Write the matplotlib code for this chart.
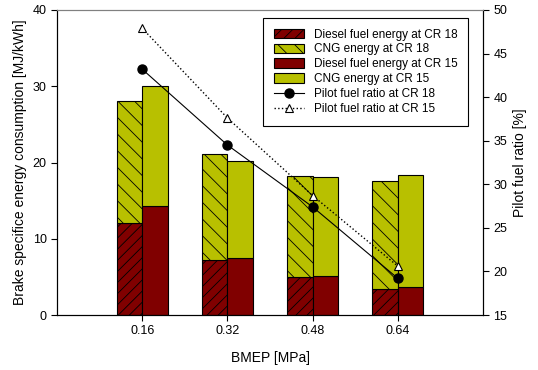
import matplotlib
matplotlib.use('Agg')
import matplotlib.pyplot as plt
import numpy as np

plt.rcParams['font.family'] = ['Liberation Sans', 'DejaVu Sans']
plt.rcParams['hatch.linewidth'] = 0.6

bmep = ['0.16', '0.32', '0.48', '0.64']
diesel_cr18 = [12.1, 7.2, 4.95, 3.4]
total_cr18 = [28.0, 21.1, 18.2, 17.6]
diesel_cr15 = [14.3, 7.5, 5.1, 3.7]
total_cr15 = [30.0, 20.2, 18.05, 18.4]
pilot_cr18 = [43.2, 34.5, 27.4, 19.2]
pilot_cr15 = [47.9, 37.6, 28.7, 20.6]

cng_cr18 = [t - d for t, d in zip(total_cr18, diesel_cr18)]
cng_cr15 = [t - d for t, d in zip(total_cr15, diesel_cr15)]

DARK_RED = '#800000'
OLIVE = '#b8c000'

fig = plt.figure(figsize=(5.38, 3.70), dpi=100)
ax = fig.add_axes([0.106, 0.1486, 0.792, 0.8244])
x = np.arange(1, len(bmep) + 1)
w = 0.3

# CR 18 bars sit left of the tick, CR 15 bars right of it
ax.bar(x - w, diesel_cr18, w, align='edge', color=DARK_RED, edgecolor='black',
       linewidth=0.8, hatch='///', label='Diesel fuel energy at CR 18')
ax.bar(x - w, cng_cr18, w, bottom=diesel_cr18, align='edge', color=OLIVE,
       edgecolor='black', linewidth=0.8, hatch='\\\\', label='CNG energy at CR 18')
ax.bar(x, diesel_cr15, w, align='edge', color=DARK_RED, edgecolor='black',
       linewidth=0.8, label='Diesel fuel energy at CR 15')
ax.bar(x, cng_cr15, w, bottom=diesel_cr15, align='edge', color=OLIVE,
       edgecolor='black', linewidth=0.8, label='CNG energy at CR 15')

ax.set_xlim(0, 5)
ax.set_ylim(0, 40)
ax.set_xticks(x)
ax.set_xticklabels(bmep)
ax.set_yticks([0, 10, 20, 30, 40])
ax.set_xlabel('BMEP [MPa]', fontsize=10, labelpad=10)
ax.set_ylabel('Brake specifice energy consumption [MJ/kWh]', fontsize=10)
ax.tick_params(labelsize=9, length=4, direction='out')
ax.spines['top'].set_color('#808080')

ax2 = ax.twinx()
ax2.plot(x, pilot_cr18, '-', color='black', linewidth=0.8, marker='o',
         markersize=6.5, label='Pilot fuel ratio at CR 18')
ax2.plot(x, pilot_cr15, ':', color='black', linewidth=1.0, marker='^',
         markersize=6, markerfacecolor='white', markeredgecolor='black',
         markeredgewidth=0.8, label='Pilot fuel ratio at CR 15')
ax2.set_ylim(15, 50)
ax2.set_yticks([15, 20, 25, 30, 35, 40, 45, 50])
ax2.set_ylabel('Pilot fuel ratio [%]', fontsize=10)
ax2.tick_params(labelsize=9, length=4, direction='out')
ax2.spines['top'].set_color('#808080')

h1, l1 = ax.get_legend_handles_labels()
h2, l2 = ax2.get_legend_handles_labels()
leg = ax2.legend(h1 + h2, l1 + l2, loc='upper right', bbox_to_anchor=(0.965, 0.974),
                 borderaxespad=0, fontsize=8.5, fancybox=False, framealpha=1,
                 edgecolor='black', handlelength=2.6, handleheight=0.9,
                 labelspacing=0.25, borderpad=0.9)
leg.get_frame().set_linewidth(0.8)

fig.savefig('out.png', dpi=100)
